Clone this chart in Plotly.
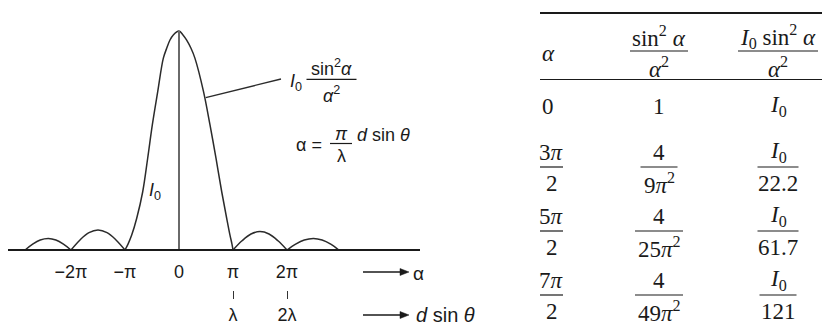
import plotly.graph_objects as go

W, H = 822, 329

# ---- single-slit diffraction pattern (alpha in units of pi, intensity relative to I0) ----
lobe_l2_x = [-2.85, -2.71, -2.57, -2.42, -2.28, -2.14, -2.0]
lobe_l2_y = [0, 0.027, 0.046, 0.053, 0.046, 0.027, 0]
lobe_l1_x = [-2.0, -1.833, -1.667, -1.5, -1.333, -1.167, -1.0]
lobe_l1_y = [0, 0.046, 0.079, 0.091, 0.079, 0.046, 0]
main_x = [-1.0, -0.944, -0.876, -0.783, -0.672, -0.580, -0.494, -0.394, -0.291,
          -0.228, -0.167, -0.106, 0.0, 0.074, 0.139, 0.222, 0.296, 0.454, 0.574,
          0.685, 0.791, 0.883, 0.944, 0.981, 1.0]
main_y = [0, 0.027, 0.068, 0.145, 0.266, 0.419, 0.571, 0.723, 0.875, 0.921, 0.959,
          0.982, 1.0, 0.982, 0.959, 0.921, 0.875, 0.723, 0.571, 0.419, 0.266, 0.145,
          0.068, 0.027, 0]
lobe_r1_x = [1.0, 1.167, 1.333, 1.5, 1.667, 1.833, 2.0]
lobe_r1_y = [0, 0.042, 0.073, 0.084, 0.073, 0.042, 0]
lobe_r2_x = [2.0, 2.16, 2.32, 2.49, 2.65, 2.81, 2.96]
lobe_r2_y = [0, 0.027, 0.046, 0.053, 0.046, 0.027, 0]

alpha_ticks = [-2, -1, 0, 1, 2]
alpha_labels = ["−2π", "−π", "0", "π", "2π"]
path_ticks = [1, 2]
path_labels = ["λ", "2λ"]

# ---- table of maxima ----
alpha_halves = [3, 5, 7]          # alpha = k*pi/2
ratio_coef = [9, 25, 49]          # sin^2/alpha^2 = 4/(k^2 pi^2)
intensity_div = [22.2, 61.7, 121]  # I0 / (k^2 pi^2 / 4)

# ---------------------------------------------------------------------------
SANS = "Liberation Sans"
SERIF = "Liberation Serif"
INK = "#1a1a1a"
NB = "\u00a0"

PX0, PXU = 179, 54          # pixel of alpha=0, pixels per pi
BASE_PY, PEAK_PY = 250, 31  # baseline and peak rows
YU = BASE_PY - PEAK_PY
XL, XR = 8, 420


def X(px):
    return px / W


def Y(py):
    return 1 - py / H


def seg(*parts):
    xs, ys = [], []
    for i, (a, b) in enumerate(parts):
        if i:
            xs.append(None)
            ys.append(None)
        xs += a
        ys += b
    return xs, ys


cx, cy = seg((lobe_l2_x, lobe_l2_y), (lobe_l1_x, lobe_l1_y), (main_x, main_y),
             (lobe_r1_x, lobe_r1_y), (lobe_r2_x, lobe_r2_y))

fig = go.Figure()
fig.add_trace(go.Scatter(x=cx, y=cy, mode="lines", connectgaps=False,
                         line=dict(color="#2b2b2b", width=1.5, shape="spline", smoothing=1),
                         hoverinfo="skip"))
# central ordinate marking I0
fig.add_trace(go.Scatter(x=[0, 0], y=[0, max(main_y)], mode="lines",
                         line=dict(color="#6a6a6a", width=2), hoverinfo="skip"))
# carrier for the d sin(theta) scale
fig.add_trace(go.Scatter(x=path_ticks, y=[0, 0], xaxis="x2", mode="markers",
                         marker=dict(opacity=0), hoverinfo="skip"))

xrange = [(XL - PX0) / PXU, (XR - PX0) / PXU]
xdom = [X(XL), X(XR)]
tick_font = dict(family=SANS, size=18, color=INK)

fig.update_layout(
    width=W, height=H, margin=dict(l=0, r=0, t=0, b=0),
    paper_bgcolor="white", plot_bgcolor="rgba(0,0,0,0)", showlegend=False,
    xaxis=dict(domain=xdom, range=xrange, anchor="free", position=Y(BASE_PY),
               showline=True, linecolor=INK, linewidth=1.5, showgrid=False,
               zeroline=False, ticks="", tickvals=alpha_ticks, ticktext=alpha_labels,
               tickfont=tick_font, ticklabelstandoff=6, fixedrange=True),
    xaxis2=dict(domain=xdom, range=xrange, anchor="free", position=Y(290),
                overlaying="x", side="bottom", showline=False, showgrid=False,
                zeroline=False, ticks="outside", ticklen=8, tickwidth=1,
                tickcolor="#333", tickvals=path_ticks, ticktext=path_labels,
                tickfont=tick_font, ticklabelstandoff=0, fixedrange=True),
    yaxis=dict(domain=[0, 1], range=[(BASE_PY - H) / YU, BASE_PY / YU],
               visible=False, fixedrange=True),
)


def note(text, px, py, size=18, family=SANS, xanchor="center"):
    fig.add_annotation(x=X(px), y=Y(py), xref="paper", yref="paper", text=text,
                       showarrow=False, xanchor=xanchor, yanchor="middle",
                       font=dict(family=family, size=size, color=INK))


def hline(x0, x1, py, width=1.2):
    fig.add_shape(type="line", xref="paper", yref="paper", x0=X(x0), x1=X(x1),
                  y0=Y(py), y1=Y(py), line=dict(color=INK, width=width))


def arrow(x0, x1, py):
    hline(x0, x1 - 6, py, 1.3)
    fig.add_shape(type="path", xref="paper", yref="paper",
                  path=f"M {X(x1 - 9)} {Y(py - 3.5)} L {X(x1)} {Y(py)} L {X(x1 - 9)} {Y(py + 3.5)} Z",
                  fillcolor=INK, line=dict(color=INK, width=0.5))


def frac(num, den, cx_, bar_py, half, size, family, gap_up, gap_dn, width=1.2):
    note(num, cx_, bar_py - gap_up, size, family)
    note(den, cx_, bar_py + gap_dn, size, family)
    hline(cx_ - half, cx_ + half, bar_py, width)


# ---- left panel labels ----
# leader from the curve to its formula
fig.add_shape(type="line", xref="x", yref="y", x0=(205.7 - PX0) / PXU, y0=(BASE_PY - 97.7) / YU,
              x1=(281 - PX0) / PXU, y1=(BASE_PY - 79) / YU, line=dict(color="#2b2b2b", width=1.3))
note("<i>I</i><sub>0</sub>", 296, 82, 18)
frac("sin<sup>2</sup><i>α</i>", "<i>α</i><sup>2</sup>", 331.5, 79.3, 25, 18, SANS, 12, 15)
note("α =", 308.5, 145, 18)
frac("<i>π</i>", "λ", 341, 143.5, 11, 18, SANS, 9, 12)
note("<i>d</i> sin <i>θ</i>", 355, 135, 18, xanchor="left")
note("<i>I</i><sub>0</sub>", 155, 191, 18)

arrow(363, 409, 272)
note("α", 411, 273, 19, xanchor="left")
arrow(363, 409, 315)
note(f"<i>d</i>{NB}sin{NB}<i>θ</i>", 414, 315, 20, xanchor="left")

# ---- table ----
TL, TR = 540, 822
C1, C2, C3 = 551.5, 659, 778
FS = 23
hline(TL, TR, 13, 2.2)
hline(TL, TR, 79.5, 1.2)

note("<i>α</i>", TL, 54, FS, SERIF, xanchor="left")
frac("sin<sup>2</sup> <i>α</i>", "<i>α</i><sup>2</sup>", C2, 51, 29, FS, SERIF, 15, 16)
frac("<i>I</i><sub>0</sub> sin<sup>2</sup> <i>α</i>", "<i>α</i><sup>2</sup>", C3, 51, 40, FS, SERIF, 15, 16)

ROW0 = 106
note("0", TL, ROW0, FS, SERIF, xanchor="left")
note("1", C2, ROW0, FS, SERIF)
note("<i>I</i><sub>0</sub>", C3, ROW0, FS, SERIF)

bar_rows = [167, 231, 295]
ratio_half = [18.5, 24, 24]
inten_half = [20.5, 20.5, 18.5]
for k, c, d, by, rh, ih in zip(alpha_halves, ratio_coef, intensity_div, bar_rows,
                               ratio_half, inten_half):
    frac(f"{k}<i>π</i>", "2", C1, by, 11.5, FS, SERIF, 15, 16)
    frac("4", f"{c}<i>π</i><sup>2</sup>", C2, by, rh, FS, SERIF, 15, 16)
    frac("<i>I</i><sub>0</sub>", f"{d:g}", C3, by, ih, FS, SERIF, 15, 16)

fig.write_html("out.html")
